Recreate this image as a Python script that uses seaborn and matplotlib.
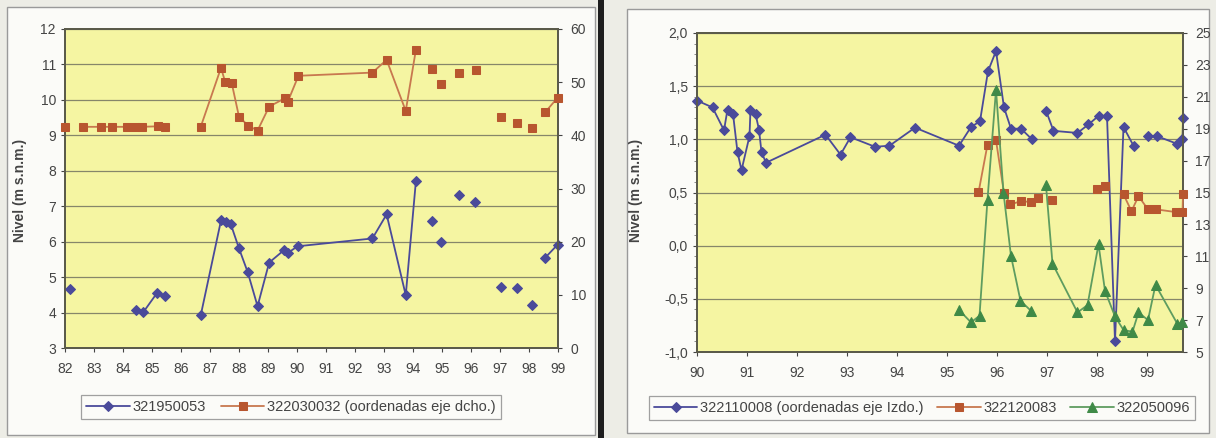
import numpy as np
import pandas as pd
import matplotlib
matplotlib.use('Agg')
import matplotlib.pyplot as plt
import seaborn as sns
from matplotlib.patches import Rectangle
from matplotlib.ticker import MultipleLocator

# ---- Left panel data (year as 82..99) ----
# 321950053, left axis (m s.n.m.); tramo = line segment id (gaps between tramos)
x_321950053 = [82.17, 84.45, 84.70, 85.18, 85.45, 86.68, 87.38, 87.54, 87.71, 88.00, 88.30,
               88.64, 89.04, 89.55, 89.68, 90.02, 92.60, 93.09, 93.75, 94.10, 94.64, 94.95,
               95.60, 96.14, 97.02, 97.57, 98.09, 98.55, 98.99]
y_321950053 = [4.67, 4.06, 4.01, 4.56, 4.46, 3.92, 6.60, 6.56, 6.51, 5.81, 5.14,
               4.18, 5.41, 5.76, 5.68, 5.87, 6.09, 6.77, 4.49, 7.71, 6.58, 5.99,
               7.33, 7.12, 4.72, 4.69, 4.20, 5.54, 5.92]
tramo_321950053 = [0, 1, 1, 1, 1, 2, 2, 2, 2, 2, 2, 2, 2, 2, 2, 2, 2, 2, 2, 2,
                   3, 4, 5, 6, 7, 8, 9, 10, 10]

# 322030032, right axis
x_322030032 = [82.00, 82.61, 83.23, 83.61, 84.13, 84.41, 84.64, 85.22, 85.45, 86.68, 87.38,
               87.52, 87.75, 88.00, 88.32, 88.64, 89.04, 89.59, 89.68, 90.05, 92.60, 93.09,
               93.75, 94.10, 94.64, 94.95, 95.60, 96.16, 97.02, 97.57, 98.09, 98.55, 98.99]
y_322030032 = [41.6, 41.6, 41.6, 41.6, 41.6, 41.6, 41.6, 41.7, 41.6, 41.6, 52.7,
               50.1, 49.8, 43.5, 41.8, 40.9, 45.4, 47.0, 46.3, 51.2, 51.8, 54.2,
               44.6, 56.1, 52.4, 49.7, 51.8, 52.3, 43.5, 42.4, 41.3, 44.3, 47.1]
tramo_322030032 = [0, 1, 1, 1, 1, 1, 1, 1, 1, 2, 2, 2, 2, 2, 2, 2, 2, 2, 2, 2, 2, 2, 2, 2,
                   3, 4, 5, 6, 7, 8, 9, 10, 10]

# ---- Right panel data (year as 90..99) ----
# 322110008, left axis
x_322110008 = [90.00, 90.31, 90.54, 90.61, 90.72, 90.81, 90.89, 91.05, 91.07, 91.17, 91.24,
               91.29, 91.38, 92.57, 92.87, 93.07, 93.56, 93.85, 94.36, 95.24, 95.48, 95.66,
               95.82, 95.98, 96.14, 96.28, 96.48, 96.70,
               96.98, 97.13, 97.61, 97.83, 98.03, 98.20, 98.36, 98.53, 98.73,
               99.01, 99.20, 99.59, 99.71, 99.72]
y_322110008 = [1.365, 1.30, 1.085, 1.28, 1.24, 0.88, 0.71, 1.03, 1.28, 1.24, 1.09,
               0.88, 0.78, 1.044, 0.856, 1.02, 0.93, 0.94, 1.11, 0.94, 1.116, 1.17,
               1.64, 1.83, 1.30, 1.10, 1.10, 1.00,
               1.27, 1.08, 1.06, 1.14, 1.22, 1.22, -0.90, 1.116, 0.94,
               1.03, 1.03, 0.96, 1.00, 1.20]
tramo_322110008 = [0] * 28 + [1] * 9 + [2] * 5

# 322120083, right axis
x_322120083 = [95.63, 95.81, 95.98, 96.14, 96.27, 96.48, 96.68, 96.83, 97.11, 98.00, 98.16,
               98.53, 98.69, 98.83, 99.02, 99.19, 99.58, 99.71, 99.72]
y_322120083 = [15.0, 18.0, 18.27, 14.98, 14.25, 14.46, 14.4, 14.67, 14.5, 15.19, 15.4,
               14.88, 13.83, 14.77, 13.94, 13.94, 13.77, 13.77, 14.88]
tramo_322120083 = [0] * 8 + [1] + [2, 2] + [3] * 8

# 322050096, right axis
x_322050096 = [95.24, 95.48, 95.65, 95.81, 95.98, 96.13, 96.28, 96.47, 96.68,
               96.98, 97.11, 97.61, 97.81, 98.03, 98.16, 98.36, 98.53, 98.71, 98.83,
               99.02, 99.17, 99.61, 99.71]
y_322050096 = [7.63, 6.86, 7.27, 14.56, 21.44, 14.98, 11.02, 8.21, 7.58,
               15.44, 10.54, 7.48, 7.94, 11.75, 8.83, 7.23, 6.38, 6.27, 7.48,
               7.0, 9.21, 6.75, 6.86]
tramo_322050096 = [0] * 9 + [1] * 14

izq_ticks = list(range(82, 100))
der_ticks = list(range(90, 100))

sns.set_theme(style='white')
plt.rcParams['font.family'] = ['Liberation Sans', 'DejaVu Sans']

BLUE = '#4A4A9A'
ORANGE = '#B8562F'
ORANGE_L = '#C8784F'
GREEN = '#3F8A47'
GREEN_L = '#5E9C60'
PLOT_BG = '#F5F5A2'
GRID = '#86866A'
TXT = '#444444'

fig = plt.figure(figsize=(12.16, 4.38), dpi=100, facecolor='#EDEDE6')
W, H = 1216, 438


def fbox(x0, y0, x1, y1, **kw):
    fig.add_artist(Rectangle((x0 / W, 1 - y1 / H), (x1 - x0) / W, (y1 - y0) / H,
                             transform=fig.transFigure, **kw))


fbox(7, 7, 595, 435, facecolor='#FBFBF8', edgecolor='#9A9A9A', lw=1.0, zorder=0)
fbox(627, 9, 1209, 433, facecolor='#FBFBF8', edgecolor='#9A9A9A', lw=1.0, zorder=0)
fbox(598, 0, 604, 438, facecolor='#1E1E1E', edgecolor='none', zorder=0)


def add_axes(x0, y0, x1, y1):
    return fig.add_axes([x0 / W, 1 - y1 / H, (x1 - x0) / W, (y1 - y0) / H])


def serie(ax, x, y, tramo, marker, color, lcolor, ms, label):
    df = pd.DataFrame({'x': x, 'y': y, 'tramo': tramo})
    sns.lineplot(data=df, x='x', y='y', units='tramo', estimator=None, ax=ax,
                 color=lcolor, lw=1.3, marker=marker, markersize=ms,
                 markerfacecolor=color, markeredgecolor=color, label=label,
                 legend=False, zorder=3, clip_on=False)


def style_axes(ax, ax2):
    ax.set_facecolor(PLOT_BG)
    ax.grid(axis='y', color=GRID, lw=0.9)
    ax.grid(axis='x', visible=False)
    for a in (ax, ax2):
        for s in a.spines.values():
            s.set_color('#5A5A4A')
            s.set_linewidth(1.3)
        a.tick_params(colors=TXT, labelsize=10, length=3, width=0.8, direction='out')
        a.set_xlabel('')
        a.set_ylabel('')
    ax.tick_params(axis='both', which='both', left=True, bottom=True, labelcolor=TXT)
    ax2.tick_params(axis='y', right=True, pad=6)
    ax.set_zorder(1)
    ax2.set_zorder(2)
    ax2.patch.set_visible(False)


# ---- Left panel ----
axL = add_axes(65, 29, 558, 348)
axL2 = axL.twinx()
serie(axL, x_321950053, y_321950053, tramo_321950053, 'D', BLUE, BLUE, 5.5, '321950053')
serie(axL2, x_322030032, y_322030032, tramo_322030032, 's', ORANGE, ORANGE_L, 5.5,
      '322030032 (oordenadas eje dcho.)')
axL.set_xlim(82, 99)
axL.set_ylim(3, 12)
axL2.set_ylim(0, 60)
axL.set_xticks(izq_ticks)
axL.set_xticklabels([str(t) for t in izq_ticks])
axL.yaxis.set_major_locator(MultipleLocator(1))
axL2.yaxis.set_major_locator(MultipleLocator(10))
style_axes(axL, axL2)
axL.tick_params(axis='x', pad=7)
fig.text(20 / W, 1 - 190 / H, 'Nivel (m s.n.m.)', rotation=90, ha='center', va='center',
         fontsize=10, fontweight='bold', color=TXT)

# ---- Right panel ----
axR = add_axes(697, 33, 1183, 352)
axR2 = axR.twinx()
serie(axR, x_322110008, y_322110008, tramo_322110008, 'D', BLUE, BLUE, 5.5,
      '322110008 (oordenadas eje Izdo.)')
serie(axR2, x_322120083, y_322120083, tramo_322120083, 's', ORANGE, ORANGE_L, 5.5, '322120083')
serie(axR2, x_322050096, y_322050096, tramo_322050096, '^', GREEN, GREEN_L, 6.5, '322050096')
axR.set_xlim(90, 99.72)
axR.set_ylim(-1.0, 2.0)
axR2.set_ylim(5, 25)
axR.set_xticks(der_ticks)
axR.set_xticklabels([str(t) for t in der_ticks])
axR.yaxis.set_major_locator(MultipleLocator(0.5))
axR.yaxis.set_minor_locator(MultipleLocator(0.1))
axR.yaxis.set_major_formatter(lambda v, p: f'{v:.1f}'.replace('.', ','))
axR2.set_yticks(list(range(5, 26, 2)))
style_axes(axR, axR2)
axR.tick_params(axis='y', which='minor', left=True, length=2, width=0.6, color='#777')
axR.tick_params(axis='x', pad=7)
fig.text(636 / W, 1 - 190 / H, 'Nivel (m s.n.m.)', rotation=90, ha='center', va='center',
         fontsize=10, fontweight='bold', color=TXT)


# ---- Legends ----
def handles_of(*axes):
    h, l = [], []
    for a in axes:
        hh, ll = a.get_legend_handles_labels()
        for hi, li in zip(hh, ll):
            if li not in l:
                h.append(hi)
                l.append(li)
    return h, l


def leyenda(axes, cx, cy, ncol, colsp):
    h, l = handles_of(*axes)
    leg = fig.legend(h, l, loc='center', bbox_to_anchor=(cx / W, 1 - cy / H), ncol=ncol,
                     frameon=True, fancybox=False, edgecolor='#A0A0A0', facecolor='#FBFBF8',
                     fontsize=10.5, handlelength=3, columnspacing=colsp, handletextpad=0.2,
                     borderpad=0.35, framealpha=1)
    for t in leg.get_texts():
        t.set_color(TXT)
    leg.get_frame().set_linewidth(0.9)


leyenda([axL, axL2], 291, 407, 2, 1.0)
leyenda([axR, axR2], 922, 408, 3, 0.9)

fig.savefig('out.png', dpi=100, facecolor=fig.get_facecolor())
